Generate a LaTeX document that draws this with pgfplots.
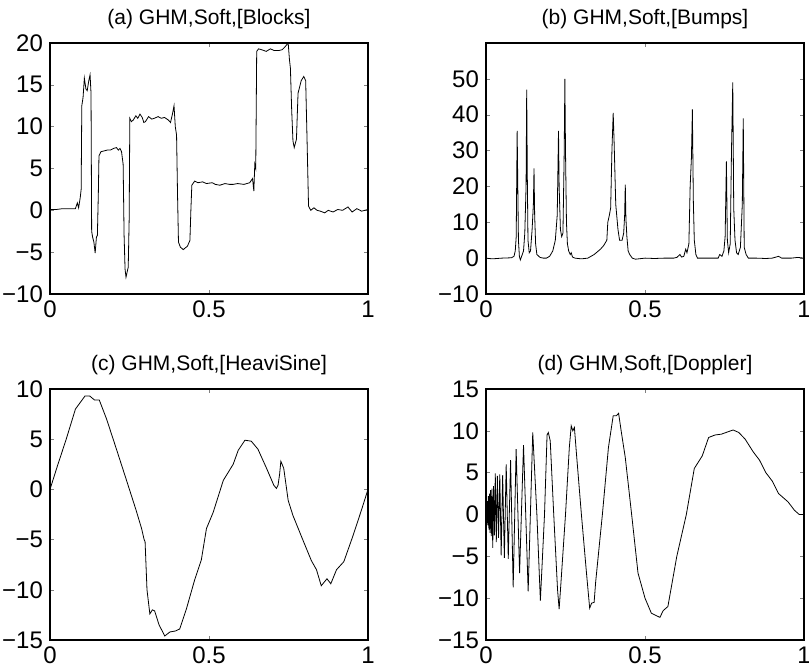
\documentclass[border=0pt]{standalone}
\usepackage{fontspec}
\setmainfont{Liberation Sans}
\usepackage{pgfplots}
\pgfplotsset{compat=1.18}
\usepgfplotslibrary{groupplots}
\pgfplotsset{wv/.style={scale only axis, width=159pt, height=125.5pt,
  xmin=0, xmax=1, xtick={0,0.5,1}, xticklabels={0,0.5,1},
  tick align=inside, major tick length=2pt, minor tick num=0,
  tick label style={font=\fontsize{12}{12}\selectfont},
  title style={font=\fontsize{10.5}{10.5}\selectfont, yshift=-2.5pt},
  axis line style={line width=0.6pt},
  cycle list={{black, line width=0.65pt, no marks}}}}
\begin{document}
\begin{tikzpicture}
\begin{groupplot}[group style={group size=2 by 2, horizontal sep=59pt,
  vertical sep=47.5pt}, wv]
\nextgroupplot[title={(a) GHM,Soft,[Blocks]}, ymin=-10, ymax=20,
  ytick={-10,-5,0,5,10,15,20}, yticklabels={−10,−5,0,5,10,15,20}]
\addplot coordinates {(0,0.1) (0.02,0.1) (0.04,0.2) (0.06,0.2) (0.08,0.2)
  (0.086,0.9) (0.09,0.3) (0.095,1.5) (0.098,2.5) (0.100,12.5) (0.104,13.5)
  (0.108,15.8) (0.113,14.5) (0.117,14.3) (0.122,15.5) (0.126,16.2)
  (0.129,14) (0.131,-2.5) (0.134,-3.2) (0.138,-3.8) (0.142,-5.1)
  (0.146,-3.2) (0.149,-3) (0.152,2) (0.154,6.5) (0.16,7) (0.17,7.1)
  (0.18,7.2) (0.19,7.2) (0.20,7.4) (0.209,7.5) (0.215,7.2) (0.22,7.4)
  (0.225,7) (0.230,5.5) (0.233,-3) (0.236,-7) (0.239,-8) (0.243,-7.3)
  (0.246,-6.8) (0.249,-1) (0.251,11) (0.256,10.6) (0.262,10.8)
  (0.27,11.3) (0.276,11) (0.283,11.5) (0.29,11.1) (0.295,10.5)
  (0.30,10.6) (0.31,11.2) (0.32,10.9) (0.328,11) (0.34,11.2) (0.35,11)
  (0.36,11.1) (0.372,10.8) (0.379,10.5) (0.385,11.5) (0.390,12.5)
  (0.394,10) (0.398,9) (0.401,2) (0.404,-3.8) (0.41,-4.4) (0.419,-4.7)
  (0.425,-4.5) (0.432,-4.3) (0.44,-3.6) (0.443,0) (0.446,3) (0.455,3.5)
  (0.465,3.3) (0.48,3.4) (0.492,3.2) (0.51,3.3) (0.52,3.1) (0.534,3.0)
  (0.55,3.2) (0.565,3.1) (0.576,3.1) (0.59,3.2) (0.61,3.1) (0.628,3.3)
  (0.637,3.8) (0.641,2.3) (0.644,5.5) (0.647,5) (0.650,19) (0.656,19.3)
  (0.665,19.2) (0.68,19) (0.693,19.3) (0.705,19.1) (0.72,19.1)
  (0.730,19.2) (0.738,19.5) (0.749,20) (0.753,18) (0.756,17) (0.76,12)
  (0.764,8.3) (0.768,7.5) (0.775,8.5) (0.78,14) (0.79,15.5) (0.798,16)
  (0.804,15.5) (0.808,9) (0.813,0.5) (0.82,0) (0.83,0.3) (0.84,0)
  (0.85,-0.1) (0.864,-0.3) (0.875,0) (0.89,-0.2) (0.905,0.1) (0.92,0)
  (0.937,0.4) (0.95,-0.2) (0.965,0.2) (0.98,-0.1) (1,0.1)};
\nextgroupplot[title={(b) GHM,Soft,[Bumps]}, ymin=-10, ymax=60,
  ytick={-10,0,10,20,30,40,50}, yticklabels={−10,0,10,20,30,40,50}]
\addplot coordinates {(0,0) (0.02,-0.2) (0.05,0) (0.08,0.1) (0.088,0.5)
  (0.092,2) (0.095,6) (0.098,35.5) (0.100,20) (0.102,5) (0.105,0.5)
  (0.108,-0.5) (0.112,0.5) (0.118,2) (0.122,7) (0.126,20) (0.128,47)
  (0.130,22) (0.132,5) (0.136,1.5) (0.140,2) (0.145,8) (0.149,15)
  (0.151,25) (0.153,12) (0.156,4) (0.160,1) (0.170,0.2) (0.180,0)
  (0.190,0) (0.200,0.5) (0.210,2) (0.218,5) (0.224,12) (0.228,35.5)
  (0.230,20) (0.234,8) (0.238,6) (0.242,7) (0.246,30) (0.248,50)
  (0.250,30) (0.253,10) (0.256,4) (0.260,2) (0.265,1) (0.268,1.5)
  (0.272,0.3) (0.280,0) (0.300,-0.2) (0.320,0) (0.340,1) (0.360,2.5)
  (0.370,3.5) (0.380,5) (0.383,10) (0.388,12) (0.392,14) (0.396,30)
  (0.400,40.5) (0.403,32) (0.408,15) (0.415,8) (0.420,5) (0.428,5)
  (0.433,7) (0.436,12) (0.438,20.5) (0.440,11) (0.443,6) (0.447,2)
  (0.452,1) (0.460,0) (0.470,-0.3) (0.50,0) (0.53,-0.1) (0.56,0)
  (0.59,0) (0.600,0.2) (0.610,1) (0.615,0.3) (0.622,0.5) (0.628,2.5)
  (0.632,1.5) (0.638,4) (0.642,20) (0.646,28) (0.649,41.5) (0.652,16)
  (0.655,5) (0.660,1) (0.665,0) (0.70,0) (0.730,0) (0.735,1) (0.742,0.5)
  (0.748,2) (0.752,6) (0.756,27) (0.759,5) (0.763,1.5) (0.768,4)
  (0.772,30) (0.776,49) (0.779,14) (0.783,5) (0.788,1.5) (0.793,1)
  (0.800,3) (0.806,15) (0.809,39) (0.812,3) (0.818,1) (0.825,0)
  (0.850,0) (0.880,-0.1) (0.900,0) (0.920,0.5) (0.930,0) (0.960,0)
  (0.980,0.2) (1,0)};
\nextgroupplot[title={(c) GHM,Soft,[HeaviSine]}, ymin=-15, ymax=10,
  ytick={-15,-10,-5,0,5,10}, yticklabels={−15,−10,−5,0,5,10}]
\addplot coordinates {(0,0) (0.025,2.5) (0.05,4.9) (0.08,8.0) (0.11,9.3)
  (0.125,9.3) (0.14,8.9) (0.155,8.9) (0.178,7) (0.209,4) (0.239,1.06)
  (0.270,-2) (0.288,-3.9) (0.296,-5) (0.299,-5.2) (0.305,-10)
  (0.314,-12.4) (0.322,-12) (0.329,-12.1) (0.343,-13.5) (0.361,-14.6)
  (0.377,-14.2) (0.395,-14.1) (0.408,-13.9) (0.429,-11.9) (0.455,-9)
  (0.476,-7) (0.492,-3.9) (0.513,-2.3) (0.524,-1.2) (0.545,0.9)
  (0.576,2.5) (0.592,3.9) (0.613,4.9) (0.633,4.8) (0.654,4)
  (0.681,2.1) (0.704,0.4) (0.712,0.1) (0.717,0.4) (0.722,1.5)
  (0.726,2.8) (0.735,2.1) (0.749,-1.1) (0.764,-2.6) (0.796,-5.1)
  (0.822,-7.1) (0.838,-8) (0.853,-9.6) (0.871,-8.9) (0.883,-9.4)
  (0.901,-8) (0.924,-7.2) (0.953,-4.6) (0.979,-2.1) (1,0)};
\nextgroupplot[title={(d) GHM,Soft,[Doppler]}, ymin=-15, ymax=15,
  ytick={-15,-10,-5,0,5,10,15}, yticklabels={−15,−10,−5,0,5,10,15}]
\addplot coordinates {(0,0) (0.002,0.8) (0.0032,-1.0) (0.0045,1.6)
  (0.006,-1.3) (0.0075,2.2) (0.0092,-1.8) (0.0109,2.5) (0.0127,-2.2)
  (0.0146,2.9) (0.0167,-2.6) (0.0189,3.1) (0.0212,-4.0) (0.0237,3.4)
  (0.0264,-2.5) (0.0292,4.9) (0.0324,-3.3) (0.0357,4.6) (0.0394,-2.8)
  (0.0433,4.8) (0.0477,-4.9) (0.0524,4.7) (0.0577,-5.2) (0.0635,6.0)
  (0.070,-5.3) (0.0773,6.5) (0.0855,-8.7) (0.0948,7.8) (0.1056,-7.0)
  (0.118,8.3) (0.1326,-9.2) (0.147,9.8) (0.152,6) (0.160,0) (0.171,-10.3)
  (0.184,0) (0.192,9.5) (0.196,9.8) (0.202,8.8) (0.213,0) (0.225,-9)
  (0.230,-11.3) (0.236,-8) (0.250,0) (0.262,8) (0.268,10.6)
  (0.273,10) (0.278,10.4) (0.285,7) (0.300,0) (0.316,-7) (0.326,-11.2)
  (0.332,-10.6) (0.340,-10.5) (0.345,-8) (0.366,0) (0.385,8)
  (0.400,11.8) (0.410,11.8) (0.417,12.1) (0.425,10) (0.438,6.8)
  (0.458,0) (0.478,-7) (0.500,-10) (0.520,-11.8) (0.547,-12.3)
  (0.557,-11.5) (0.572,-11) (0.600,-5) (0.630,0) (0.655,5.5)
  (0.680,7) (0.700,9.2) (0.720,9.5) (0.740,9.6) (0.777,10.1) (0.795,9.8)
  (0.815,9) (0.840,7.5) (0.860,6.5) (0.880,5) (0.900,4) (0.920,2.5)
  (0.950,1.5) (0.970,0.5) (0.985,0) (1,0)};
\end{groupplot}
\pgfresetboundingbox
\path[use as bounding box]
  ([shift={(-25pt,-13pt)}]group c1r2.south west) rectangle
  ([shift={(2.5pt,21.5pt)}]group c2r1.north east);
\end{tikzpicture}
\end{document}
